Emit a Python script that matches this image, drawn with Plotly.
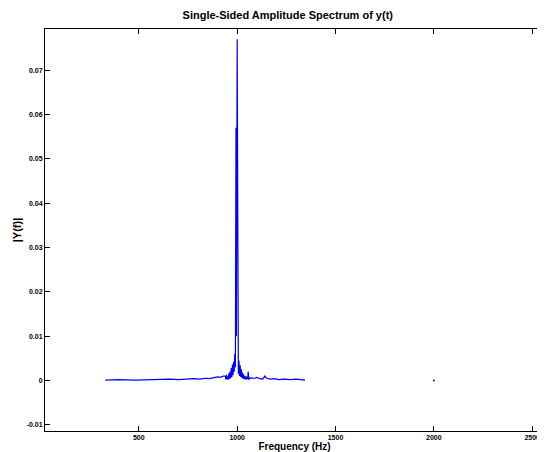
import plotly.graph_objects as go

# single-sided amplitude spectrum
freq = [330, 400, 480, 560, 620, 660, 700, 740, 780, 810, 840, 860, 880, 900,
        915, 930, 940, 943, 946, 949, 952, 955, 958, 961, 964, 967, 970, 973,
        976, 979, 982, 985, 988, 991, 994, 996, 1000, 1003, 1006, 1009, 1012,
        1015, 1018, 1021, 1024, 1027, 1030, 1033, 1036, 1040, 1045, 1050,
        1053, 1056, 1059, 1065, 1075, 1090, 1100, 1115, 1130, 1141, 1150,
        1170, 1190, 1210, 1240, 1270, 1300, 1330, 1345]
amp = [0.0001, 0.0002, 0.0001, 0.0002, 0.0002, 0.0003, 0.0002, 0.0003,
       0.0004, 0.0003, 0.0005, 0.0004, 0.0006, 0.0008, 0.0007, 0.0010,
       0.0010, 0.0002, 0.0013, 0.0003, 0.0009, 0.0002, 0.0016, 0.0004,
       0.0020, 0.0005, 0.0028, 0.0008, 0.0036, 0.0012, 0.0042, 0.0020,
       0.0060, 0.0030, 0.0570, 0.0100, 0.0770, 0.0050, 0.0015, 0.0045,
       0.0010, 0.0035, 0.0008, 0.0025, 0.0006, 0.0018, 0.0004, 0.0014,
       0.0003, 0.0010, 0.0002, 0.0009, 0.0003, 0.0020, 0.0002, 0.0006,
       0.0006, 0.0005, 0.0007, 0.0004, 0.0003, 0.0010, 0.0005, 0.0003,
       0.0004, 0.0002, 0.0003, 0.0002, 0.0003, 0.0002, 0.0001]
# lone sample far out on the axis
dot_freq = [2000]
dot_amp = [0.0]

x_ticks = [500, 1000, 1500, 2000, 2500]
y_ticks = [-0.01, 0, 0.01, 0.02, 0.03, 0.04, 0.05, 0.06, 0.07]
y_labels = ["-0.01", "0", "0.01", "0.02", "0.03", "0.04", "0.05", "0.06", "0.07"]

fig = go.Figure()
fig.add_trace(go.Scatter(x=freq, y=amp, mode="lines",
                         line=dict(color="#0000ff", width=1.2)))
fig.add_trace(go.Scatter(x=dot_freq, y=dot_amp, mode="markers",
                         marker=dict(color="#0000ff", size=2)))

# page body has an 8px margin, so the figure is sized 8px smaller
fig.update_layout(
    width=537, height=444,
    margin=dict(l=37, r=1, t=21, b=21),
    paper_bgcolor="white", plot_bgcolor="white",
    showlegend=False,
    font=dict(family="Liberation Sans", color="black"),
    title=dict(text="<b>Single-Sided Amplitude Spectrum of y(t)</b>",
               x=0.521, xanchor="center", y=0.984, yanchor="middle",
               font=dict(size=11)),
)

fig.update_xaxes(range=[23, 2560], tickvals=x_ticks,
                 ticks="inside", ticklen=5, tickcolor="black",
                 showline=True, mirror="ticks", linecolor="black", linewidth=1,
                 showgrid=False, zeroline=False,
                 tickfont=dict(size=7, weight="bold"),
                 title=dict(text="<b>Frequency (Hz)</b>", font=dict(size=10),
                            standoff=0),
                 automargin=False)

fig.update_yaxes(range=[-0.0114, 0.0793], tickvals=y_ticks, ticktext=y_labels,
                 ticks="inside", ticklen=5, tickcolor="black",
                 showline=True, mirror="ticks", linecolor="black", linewidth=1,
                 showgrid=False, zeroline=False,
                 tickfont=dict(size=7, weight="bold"),
                 title=dict(text="<b>|Y(f)|</b>", font=dict(size=11),
                            standoff=2),
                 automargin=False)

fig.write_html("out.html")
